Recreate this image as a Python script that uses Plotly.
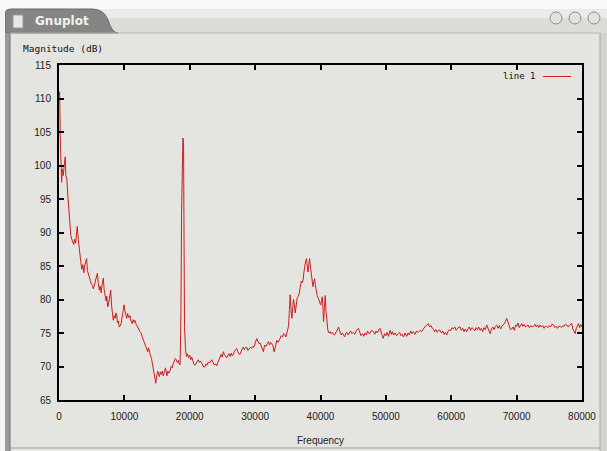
import plotly.graph_objects as go

# ---------------- data ----------------
FREQ = [
    0, 100, 200, 300, 400, 500, 650, 800, 950, 1050, 1200, 1350, 1500,
    1650, 1800, 1950, 2100, 2250, 2400, 2550, 2700, 2800, 2950, 3050, 3200,
    3350, 3500, 3650, 3800, 3950, 4100, 4230, 4350, 4490, 4650, 4800, 4950,
    5100, 5250, 5400, 5550, 5700, 5870, 6000, 6170, 6300, 6450, 6600, 6780,
    6900, 7040, 7200, 7300, 7450, 7600, 7750, 7910, 8050, 8200, 8310, 8450,
    8600, 8700, 8830, 8950, 9100, 9200, 9330, 9500, 9650, 9800, 9950, 10100,
    10250, 10360, 10500, 10650, 10870, 11000, 11200, 11350, 11500, 11600,
    11800, 12000, 12200, 12350, 12550, 12700, 12900, 13060, 13200, 13400,
    13570, 13700, 13850, 14000, 14150, 14300, 14450, 14600, 14700, 14800,
    14950, 15100, 15200, 15350, 15500, 15650, 15800, 15950, 16120, 16300,
    16500, 16650, 16800, 17000, 17150, 17300, 17500, 17650, 17800, 17950,
    18100, 18250, 18400, 18530, 18650, 18750, 18850, 18950, 19050, 19130,
    19200, 19350, 19500, 19650, 19800, 20000, 20150, 20300, 20500, 20650,
    20810, 21000, 21150, 21310, 21500, 21650, 21820, 22000, 22150, 22340,
    22500, 22650, 22850, 23000, 23200, 23360, 23550, 23770, 23950, 24130,
    24300, 24450, 24630, 24800, 24950, 25140, 25300, 25500, 25650, 25800,
    26000, 26160, 26350, 26500, 26670, 26850, 27000, 27180, 27350, 27500,
    27690, 27850, 28000, 28200, 28350, 28500, 28710, 28900, 29100, 29300,
    29480, 29650, 29800, 30000, 30250, 30400, 30600, 30760, 30950, 31100,
    31270, 31450, 31650, 31850, 32040, 32200, 32400, 32550, 32750, 32900,
    33100, 33320, 33500, 33650, 33830, 34000, 34200, 34340, 34500, 34700,
    34850, 35000, 35110, 35250, 35360, 35500, 35620, 35750, 35870, 36000,
    36130, 36300, 36450, 36600, 36740, 36900, 37050, 37200, 37350, 37450,
    37560, 37700, 37860, 37970, 38070, 38200, 38330, 38450, 38580, 38700,
    38840, 38950, 39090, 39200, 39350, 39500, 39700, 39850, 40010, 40150,
    40270, 40380, 40470, 40600, 40720, 40850, 41000, 41130, 41300, 41450,
    41640, 41800, 42000, 42150, 42300, 42500, 42650, 42760, 42900, 43050,
    43170, 43350, 43500, 43680, 43850, 44000, 44200, 44400, 44600, 44800,
    45000, 45250, 45500, 45800, 46000, 46200, 46450, 46600, 46800, 47000,
    47200, 47400, 47600, 47800, 48100, 48300, 48500, 48700, 48900, 49100,
    49300, 49450, 49600, 49800, 50000, 50200, 50400, 50650, 50850, 51000,
    51200, 51400, 51650, 51900, 52100, 52300, 52500, 52700, 52950, 53190,
    53400, 53600, 53800, 54000, 54200, 54450, 54700, 54950, 55230, 55450,
    55700, 55950, 56250, 56500, 56700, 56900, 57100, 57270, 57450, 57650,
    57850, 58050, 58290, 58500, 58700, 58900, 59100, 59310, 59500, 59700,
    59900, 60100, 60330, 60550, 60750, 60950, 61150, 61350, 61550, 61750,
    61950, 62150, 62370, 62550, 62750, 62950, 63150, 63390, 63600, 63800,
    64000, 64200, 64410, 64600, 64800, 65000, 65200, 65430, 65650, 65940,
    66150, 66350, 66550, 66750, 66960, 67150, 67350, 67550, 67725, 67950,
    68200, 68490, 68700, 68900, 69050, 69255, 69450, 69650, 69850, 70020,
    70200, 70400, 70600, 70785, 70950, 71150, 71350, 71550, 71750, 71950,
    72150, 72350, 72570, 72800, 73000, 73200, 73400, 73590, 73800, 74000,
    74200, 74400, 74610, 74800, 75000, 75200, 75400, 75630, 75850, 76050,
    76250, 76450, 76650, 76850, 77050, 77250, 77450, 77670, 77900, 78100,
    78300, 78435, 78600, 78800, 78945, 79100, 79300, 79455, 79650, 79800,
    79965,
]

MAG = [
    110.5, 111.0, 104.0, 98.0, 97.5, 99.5, 98.5, 100.0, 101.3, 98.5, 98.0, 95.5, 93.0,
    91.0, 89.6, 89.0, 88.5, 88.2, 89.0, 88.4, 90.2, 90.9, 89.0, 87.5, 86.8,
    85.5, 84.5, 85.2, 84.0, 85.2, 85.8, 86.1, 84.3, 83.7, 83.2, 82.8, 82.3,
    82.1, 81.6, 82.2, 82.8, 83.4, 83.9, 82.5, 81.4, 82.0, 81.0, 82.3, 83.2,
    81.5, 80.7, 79.8, 80.5, 78.9, 79.5, 80.3, 81.4, 79.0, 77.5, 76.9, 77.6,
    77.2, 78.0, 77.7, 76.5, 76.8, 75.9, 76.0, 76.4, 77.5, 78.6, 79.2, 78.3,
    77.8, 77.2, 77.9, 77.3, 77.6, 76.8, 76.4, 77.0, 76.6, 76.9,
    76.3, 76.0, 75.6, 75.2, 75.0, 74.5, 73.9, 73.7, 73.2, 72.5,
    72.2, 72.8, 72.0, 71.6, 71.2, 70.2, 69.5, 68.3, 67.6, 67.5,
    68.6, 69.3, 69.0, 68.5, 69.2, 68.8, 69.3, 68.6, 69.2, 69.8,
    68.6, 69.3, 69.0, 69.4, 70.0, 69.8, 70.5, 70.9, 71.2, 71.0,
    70.6, 70.9, 70.3, 70.3, 77.7, 93.0, 103.8, 104.1, 103.5, 88.0,
    76.0, 72.5, 71.5, 71.9, 71.3, 71.7, 71.0, 71.4, 70.8, 70.3,
    70.2, 70.6, 70.9, 71.0, 70.6, 70.8, 70.5, 70.2, 69.9, 70.0,
    70.4, 70.2, 70.7, 70.5, 70.9, 71.0, 70.6, 70.2, 70.4, 70.1,
    70.6, 71.0, 71.5, 71.8, 71.4, 72.2, 71.8, 71.5, 71.3, 71.6,
    71.9, 71.5, 72.0, 71.6, 71.8, 72.3, 72.5, 72.7, 72.2, 71.9,
    71.8, 72.4, 72.6, 72.9, 72.5, 72.8, 72.9, 72.4, 72.6, 72.9,
    72.7, 73.0, 72.9, 73.6, 74.2, 73.8, 73.4, 73.5, 73.0, 72.5,
    72.2, 73.2, 73.0, 73.4, 73.7, 73.2, 73.6, 73.4, 73.0, 72.2,
    73.2, 73.9, 73.6, 74.0, 74.2, 74.6, 74.4, 74.9, 74.8, 74.4,
    75.0, 75.6, 76.0, 78.5, 80.7, 78.4, 77.2, 78.8, 80.0, 79.2,
    78.0, 79.2, 80.3, 80.5, 80.9, 81.8, 82.7, 82.5, 83.0, 84.0,
    85.1, 85.6, 86.1, 85.0, 84.1, 85.0, 86.1, 85.0, 83.8, 82.8,
    81.9, 82.5, 83.1, 82.2, 81.1, 80.6, 80.1, 79.6, 79.2, 79.8,
    80.4, 78.5, 76.7, 78.8, 80.6, 78.2, 76.0, 75.4, 75.0, 75.2,
    74.9, 75.1, 74.8, 74.7, 75.0, 75.3, 75.6, 75.9, 75.2, 74.9,
    74.7, 75.0, 74.8, 74.4, 74.9, 75.1, 74.7, 75.0, 75.3, 74.9,
    75.1, 74.8, 75.4, 75.7, 75.0, 74.6, 74.9, 74.5, 75.0, 74.7,
    75.3, 74.9, 75.0, 75.4, 75.2, 74.8, 75.3, 75.0, 75.5, 75.7,
    75.0, 74.6, 74.2, 74.9, 74.6, 75.1, 74.5, 75.4, 74.8, 75.2,
    74.7, 75.0, 74.6, 74.9, 75.1, 74.6, 74.8, 74.4, 75.0, 74.5,
    75.0, 74.7, 75.3, 74.9, 75.2, 74.8, 75.3, 75.1, 75.4, 75.2,
    75.6, 75.9, 76.2, 76.4, 75.9, 76.1, 75.7, 75.6, 75.2, 75.5,
    75.1, 75.4, 75.4, 75.0, 75.3, 74.8, 75.1, 74.7, 75.2, 75.5,
    75.3, 75.8, 75.6, 75.9, 75.4, 75.7, 75.9, 75.9, 75.4, 75.7,
    75.2, 75.6, 75.2, 75.6, 75.9, 75.4, 75.8, 75.6, 75.3, 75.8,
    75.5, 75.9, 75.4, 75.7, 75.2, 75.8, 75.5, 76.2, 75.6, 74.9,
    75.6, 75.9, 75.5, 76.0, 76.2, 75.7, 76.1, 75.6, 76.0, 76.3,
    76.5, 77.2, 76.4, 76.0, 75.5, 75.6, 75.9, 75.4, 76.2, 76.0,
    76.5, 75.8, 76.1, 76.4, 76.0, 76.3, 75.9, 76.0, 76.2, 75.8,
    76.1, 75.9, 76.0, 76.3, 75.9, 76.2, 75.8, 76.2, 75.9, 76.1,
    75.7, 76.0, 76.0, 75.8, 76.1, 75.9, 76.3, 76.2, 75.8, 76.0,
    75.7, 76.0, 76.0, 75.8, 76.1, 76.0, 76.3, 76.2, 75.9, 76.2,
    76.4, 76.4, 75.6, 75.0, 74.9, 75.6, 76.2, 76.4, 75.8, 76.3,
    75.9,
]

X_TICKS = [0, 10000, 20000, 30000, 40000, 50000, 60000, 70000, 80000]
Y_TICKS = [65, 70, 75, 80, 85, 90, 95, 100, 105, 110, 115]
SERIES_NAME = "line 1"

# ---------------- layout geometry ----------------
W, H = 607, 451
L, R, T, B = 59, 582, 65, 400  # plot area in pixels

def px(x):
    return (x - L) / (R - L)

def py(y):
    return (B - y) / (B - T)

BG = "#e4e4e0"
LINE_COLOR = "#cc1f1f"

fig = go.Figure()
fig.add_trace(go.Scatter(
    x=FREQ, y=MAG, mode="lines", name=SERIES_NAME,
    line=dict(color=LINE_COLOR, width=1), showlegend=False,
))

axis_common = dict(
    showline=True, linecolor="black", linewidth=2, mirror="allticks",
    ticks="inside", ticklen=5, tickwidth=2, tickcolor="black",
    showgrid=False, zeroline=False, automargin=False,
    tickfont=dict(family="Liberation Sans, Arial", size=10, color="#222"),
)

fig.update_layout(
    width=W, height=H,
    margin=dict(l=L, r=W - R, t=T, b=H - B, pad=0),
    paper_bgcolor=BG, plot_bgcolor=BG,
    xaxis=dict(range=[0, 80000], tickvals=X_TICKS,
               ticktext=[str(v) for v in X_TICKS],
               title=dict(text="Frequency", standoff=16,
                          font=dict(family="Liberation Sans, Arial", size=10, color="#222")),
               ticklabelstandoff=6, **axis_common),
    yaxis=dict(range=[65, 115], tickvals=Y_TICKS,
               ticktext=[str(v) for v in Y_TICKS],
               ticklabelstandoff=4, **axis_common),
)

shapes = []
# top white strip
shapes.append(dict(type="rect", xref="paper", yref="paper",
                   x0=px(0), x1=px(W), y0=py(0), y1=py(9),
                   fillcolor="#fafafa", line=dict(width=0), layer="below"))
# title bar (right light part)
shapes.append(dict(type="rect", xref="paper", yref="paper",
                   x0=px(5), x1=px(W), y0=py(9), y1=py(33),
                   fillcolor="#dcdcd8", line=dict(width=0), layer="below"))
shapes.append(dict(type="rect", xref="paper", yref="paper",
                   x0=px(5), x1=px(W), y0=py(9), y1=py(18),
                   fillcolor="#ebebe8", line=dict(width=0), layer="below"))
# dark tab
x_a, x_b, x_c = px(5), px(92), px(118)
y_t, y_b = py(9), py(33)
tab_path = (f"M {x_a},{y_b} L {x_a},{py(14)} Q {x_a},{y_t} {px(12)},{y_t} "
            f"L {x_b},{y_t} Q {px(104)},{y_t} {px(108)},{py(20)} "
            f"Q {px(112)},{y_b} {x_c},{y_b} Z")
shapes.append(dict(type="path", xref="paper", yref="paper", path=tab_path,
                   fillcolor="#858583", line=dict(color="#6a6a68", width=1),
                   layer="below"))
# tab icon (page)
shapes.append(dict(type="rect", xref="paper", yref="paper",
                   x0=px(13), x1=px(23), y0=py(15), y1=py(28),
                   fillcolor="#e8e8e6", line=dict(color="#9a9a98", width=1)))
# window buttons
for cx in (556, 575, 594):
    shapes.append(dict(type="circle", xref="paper", yref="paper",
                       x0=px(cx - 6), x1=px(cx + 6), y0=py(12), y1=py(24),
                       fillcolor="#e2e2df", line=dict(color="#8e8e8c", width=1)))
# left border
shapes.append(dict(type="rect", xref="paper", yref="paper",
                   x0=px(0), x1=px(5), y0=py(H), y1=py(9),
                   fillcolor="#f4f4f4", line=dict(width=0), layer="below"))
shapes.append(dict(type="rect", xref="paper", yref="paper",
                   x0=px(5), x1=px(10), y0=py(H), y1=py(33),
                   fillcolor="#9a9a98", line=dict(width=0), layer="below"))
shapes.append(dict(type="line", xref="paper", yref="paper",
                   x0=px(10), x1=px(10), y0=py(H), y1=py(33),
                   line=dict(color="#707070", width=1), layer="below"))
# right border
shapes.append(dict(type="rect", xref="paper", yref="paper",
                   x0=px(600), x1=px(W), y0=py(H), y1=py(33),
                   fillcolor="#d2d2d0", line=dict(width=0), layer="below"))
shapes.append(dict(type="line", xref="paper", yref="paper",
                   x0=px(600), x1=px(600), y0=py(H), y1=py(33),
                   line=dict(color="#a8a8a6", width=1), layer="below"))
# bottom border
shapes.append(dict(type="line", xref="paper", yref="paper",
                   x0=px(10), x1=px(600), y0=py(448), y1=py(448),
                   line=dict(color="#a0a09e", width=1), layer="below"))
# top edge of content
shapes.append(dict(type="line", xref="paper", yref="paper",
                   x0=px(10), x1=px(600), y0=py(33), y1=py(33),
                   line=dict(color="#b8b8b6", width=1), layer="below"))
# legend sample
shapes.append(dict(type="line", xref="paper", yref="paper",
                   x0=px(543), x1=px(571), y0=py(76.5), y1=py(76.5),
                   line=dict(color=LINE_COLOR, width=1)))
fig.update_layout(shapes=shapes)

mono = "DejaVu Sans Mono, monospace"
fig.add_annotation(text="Gnuplot", xref="paper", yref="paper",
                   x=px(33), y=py(21), xanchor="left", yanchor="middle",
                   showarrow=False,
                   font=dict(family="DejaVu Sans, sans-serif", size=12,
                             color="#f2f2f2", weight="bold"))
fig.add_annotation(text="Magnitude (dB)", xref="paper", yref="paper",
                   x=px(21), y=py(48), xanchor="left", yanchor="middle",
                   showarrow=False, font=dict(family=mono, size=9.5, color="#111"))
fig.add_annotation(text=SERIES_NAME, xref="paper", yref="paper",
                   x=px(538), y=py(76.5), xanchor="right", yanchor="middle",
                   showarrow=False, font=dict(family=mono, size=9, color="#111"))

fig.write_html("out.html", config={"displayModeBar": False})
